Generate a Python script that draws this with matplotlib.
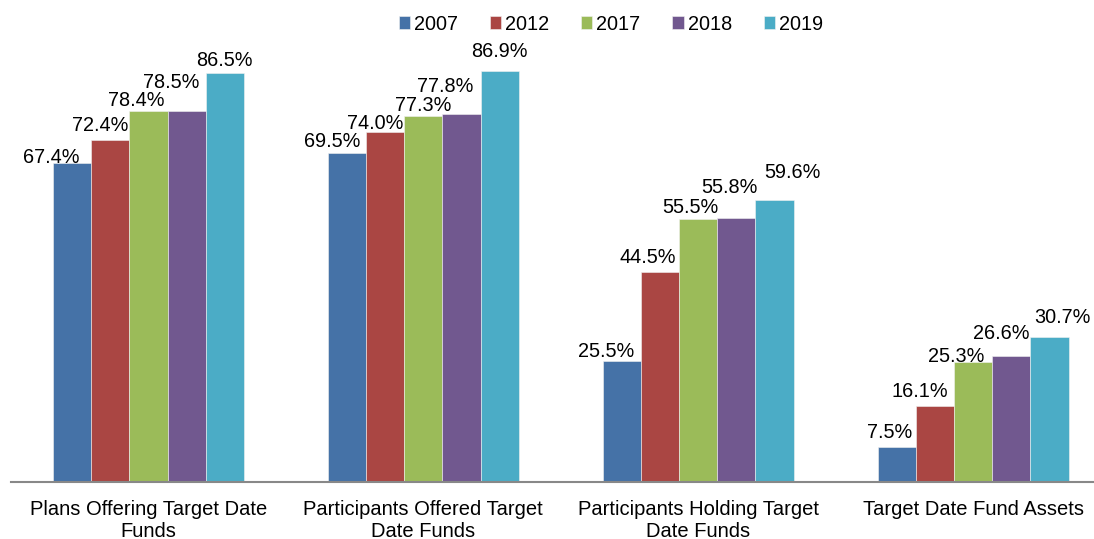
import matplotlib
matplotlib.use("Agg")
import matplotlib.pyplot as plt
import numpy as np

plt.rcParams['font.family'] = ['Liberation Sans', 'DejaVu Sans']

categories = ['Plans Offering Target Date\nFunds', 'Participants Offered Target\nDate Funds',
              'Participants Holding Target\nDate Funds', 'Target Date Fund Assets']
years = ['2007', '2012', '2017', '2018', '2019']
v2007 = [67.4, 69.5, 25.5, 7.5]
v2012 = [72.4, 74.0, 44.5, 16.1]
v2017 = [78.4, 77.3, 55.5, 25.3]
v2018 = [78.5, 77.8, 55.8, 26.6]
v2019 = [86.5, 86.9, 59.6, 30.7]
series = [v2007, v2012, v2017, v2018, v2019]

colors = ['#4572A7', '#AA4643', '#9BBB59', '#71588F', '#4BACC6']

# label nudges in pixels (dx, dy) per group, per year -- the original has hand-placed labels
nudges = [
    [(-21, 0), (-10, 9), (-12, 5), (-15, 23), (0, 7)],
    [(-15, 6), (-10, 3), (0, 5), (-16, 22), (0, 14)],
    [(-16, 4), (-12, 9), (-8, 6), (-7, 25), (18, 22)],
    [(-7, 9), (-15, 9), (-17, 0), (-10, 17), (13, 14)],
]

fig = plt.figure(figsize=(10.94, 5.39), dpi=100)
ax = fig.add_axes([11 / 1094, 57 / 539, 1 - 11 / 1094, 473 / 539])

x = np.arange(len(categories))
w = 0.139
for j, (yr, vals) in enumerate(zip(years, series)):
    xs = x + (j - 2) * w
    bars = ax.bar(xs, vals, w, color=colors[j], label=yr, edgecolor='#f2f2f2', linewidth=0.4)
    for i, b in enumerate(bars):
        dx, dy = nudges[i][j]
        ax.annotate(f'{vals[i]:.1f}%', (b.get_x() + b.get_width() / 2, b.get_height()),
                    xytext=(dx, dy), textcoords='offset pixels',
                    ha='center', va='baseline', fontsize=14.3, color='black')

ax.set_xlim(-0.5, 3.44)
ax.set_ylim(0, 100)
ax.set_yticks([])
ax.set_xticks(x)
ax.set_xticklabels(categories, fontsize=14.5, linespacing=1.2)
ax.tick_params(axis='x', length=0, pad=13)
for s in ['top', 'right', 'left']:
    ax.spines[s].set_visible(False)
ax.spines['bottom'].set_color('#888888')
ax.spines['bottom'].set_linewidth(1.5)

fig.legend(loc='center', bbox_to_anchor=(611 / 1094, 1 - 24 / 539), ncol=5, frameon=False,
           fontsize=14.3, handlelength=0.57, handleheight=0.57, handletextpad=0.2,
           columnspacing=1.6)

fig.savefig('out.png', dpi=100)
